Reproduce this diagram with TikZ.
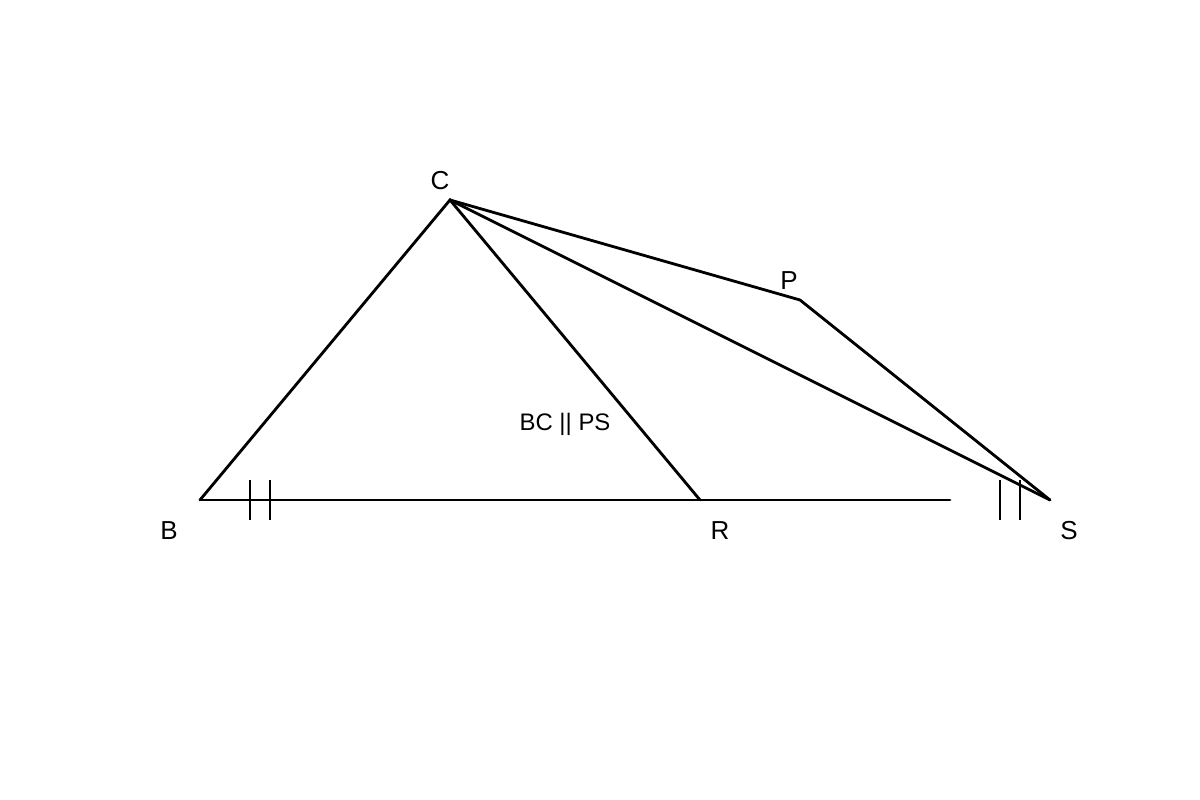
\documentclass[tikz,border=0pt]{standalone}
\usepackage{fontspec}
\setmainfont{Liberation Sans}
\usepackage{tikz}
\tikzset{
  seg/.style={line width=0.8pt, line cap=round},
  tickmark/.style={line width=0.4pt},
  lbl/.style={inner sep=0pt, font=\fontsize{7.4}{9}\selectfont}
}

\begin{document}
\begin{tikzpicture}
	\useasboundingbox (0,0) rectangle (12,8);
	\coordinate (B) at (2,3);
	\coordinate (R) at (7,3);
	\coordinate (E) at (9.5,3);
	\coordinate (C) at (4.5,6);
	\coordinate (P) at (8,5);
	\coordinate (S) at (10.5,3);
	\draw[seg] (B) -- (E);
	\draw[seg] (B) -- (C) -- (R);
	\draw[seg] (C) -- (S);
	\draw[seg] (C) -- (P) -- (S);
	\foreach \x in {2.5,2.7,10,10.2}
	  \draw[tickmark] (\x,2.8) -- (\x,3.2);
	\node[lbl] (labC) at (4.4,6.19) {C};
	\node[lbl] (labP) at (7.89,5.19) {P};
	\node[lbl] (labB) at (1.69,2.69) {B};
	\node[lbl] (labR) at (7.2,2.69) {R};
	\node[lbl] (labS) at (10.69,2.69) {S};
	\node[lbl, font=\fontsize{6.8}{8}\selectfont] (note) at (5.65,3.76) {BC || PS};
\end{tikzpicture}
\end{document}
